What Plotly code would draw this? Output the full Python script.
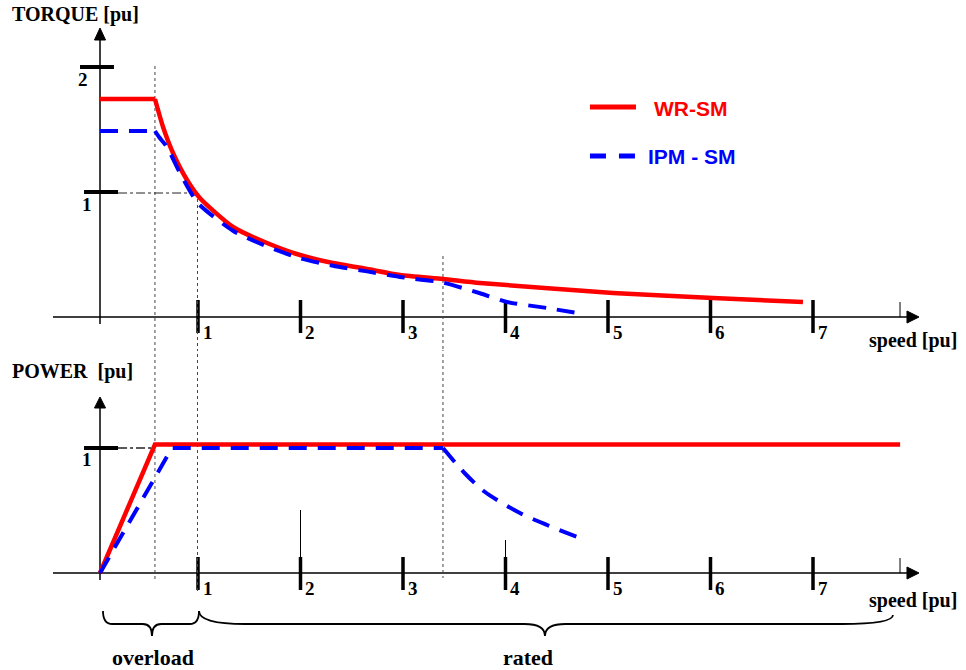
import plotly.graph_objects as go

# ---------------- data ----------------
speed_wr_flat = [0.044, 0.580]
torque_wr_flat = [1.744, 1.744]
speed_wr_torque = [0.580, 0.659, 0.756, 0.893, 1.020, 1.341, 1.673, 1.995, 2.317,
                   2.649, 2.971, 3.390, 3.751, 5.049, 6.024, 6.902]
torque_wr = [1.744, 1.52, 1.312, 1.096, 0.95, 0.72, 0.592, 0.496, 0.432,
             0.384, 0.336, 0.304, 0.272, 0.192, 0.152, 0.12]

speed_ipm_flat = [0.044, 0.580]
torque_ipm_flat = [1.488, 1.488]
speed_ipm_torque = [0.580, 0.620, 0.698, 0.824, 1.0, 1.341, 1.673, 1.995, 2.317,
                    2.649, 2.971, 3.390, 3.751, 4.015, 4.405, 4.698]
torque_ipm = [1.488, 1.44, 1.36, 1.152, 0.91, 0.69, 0.565, 0.47, 0.41,
              0.365, 0.32, 0.275, 0.19, 0.12, 0.072, 0.032]

speed_wr_power = [0.044, 0.580, 7.85]
power_wr = [0.0, 1.028, 1.028]

speed_ipm_power = [0.044, 0.746, 3.390]
power_ipm = [0.0, 1.0, 1.0]
speed_ipm_power_fw = [3.390, 3.60, 3.80, 4.141, 4.405, 4.698]
power_ipm_fw = [1.0, 0.80, 0.648, 0.48, 0.384, 0.288]

speed_ticks = [1, 2, 3, 4, 5, 6, 7]
speed_tick_labels = ["1", "2", "3", "4", "5", "6", "7"]
torque_ticks = [1, 2]
torque_tick_labels = ["1", "2"]
power_ticks = [1]
power_tick_labels = ["1"]

series_names = ["WR-SM", "IPM - SM"]
region_names = ["overload", "rated"]
region_spans = [[0.073, 1.01], [1.01, 7.78]]

corner_speeds = [0.580, 0.995, 3.390]

# ---------------- styles ----------------
RED = "#ff0000"
BLUE = "#0000ff"
BLK = "#000000"
SERIF = "Liberation Serif, Times New Roman, serif"
SANS = "Liberation Sans, Arial, sans-serif"
DASH = "18px,11px"
AX0 = 0.044  # position of the vertical axes on the speed scale

fig = go.Figure()

# torque panel (x, y)
fig.add_trace(go.Scatter(x=speed_wr_flat, y=torque_wr_flat, mode="lines",
                         line=dict(color=RED, width=4.5),
                         xaxis="x", yaxis="y", showlegend=False, name=series_names[0]))
fig.add_trace(go.Scatter(x=speed_wr_torque, y=torque_wr, mode="lines",
                         line=dict(color=RED, width=4.5, shape="spline", smoothing=0.6),
                         xaxis="x", yaxis="y", showlegend=False, name=series_names[0]))
fig.add_trace(go.Scatter(x=speed_ipm_flat, y=torque_ipm_flat, mode="lines",
                         line=dict(color=BLUE, width=4, dash=DASH),
                         xaxis="x", yaxis="y", showlegend=False, name=series_names[1]))
fig.add_trace(go.Scatter(x=speed_ipm_torque, y=torque_ipm, mode="lines",
                         line=dict(color=BLUE, width=4, dash=DASH, shape="spline", smoothing=0.6),
                         xaxis="x", yaxis="y", showlegend=False, name=series_names[1]))
# power panel (x2, y2)
fig.add_trace(go.Scatter(x=speed_wr_power, y=power_wr, mode="lines",
                         line=dict(color=RED, width=4.5),
                         xaxis="x2", yaxis="y2", showlegend=False, name=series_names[0]))
fig.add_trace(go.Scatter(x=speed_ipm_power, y=power_ipm, mode="lines",
                         line=dict(color=BLUE, width=4, dash=DASH),
                         xaxis="x2", yaxis="y2", showlegend=False, name=series_names[1]))
fig.add_trace(go.Scatter(x=speed_ipm_power_fw, y=power_ipm_fw, mode="lines",
                         line=dict(color=BLUE, width=4, dash=DASH, shape="spline", smoothing=0.8),
                         xaxis="x2", yaxis="y2", showlegend=False, name=series_names[1]))

shapes = []
annotations = []


def line(x0, y0, x1, y1, xr, yr, width=1.5, color=BLK, dash=None):
    d = dict(type="line", x0=x0, y0=y0, x1=x1, y1=y1, xref=xr, yref=yr,
             line=dict(color=color, width=width), layer="below")
    if dash:
        d["line"]["dash"] = dash
    shapes.append(d)


def tri(path_pts, xr, yr):
    p = "M " + " L ".join(f"{a},{b}" for a, b in path_pts) + " Z"
    shapes.append(dict(type="path", path=p, xref=xr, yref=yr,
                       fillcolor=BLK, line=dict(color=BLK, width=1)))


def text(x, y, s, xr, yr, size=19, color=BLK, font=SERIF, xanchor="center", bold=True):
    annotations.append(dict(x=x, y=y, xref=xr, yref=yr, text=(f"<b>{s}</b>" if bold else s),
                            showarrow=False, xanchor=xanchor, yanchor="middle",
                            font=dict(family=font, size=size, color=color)))


# ----- axes for both panels -----
for xr, yr, ytick_vals, ytick_txt, ytop_base, ytop_tip, tick_lo, tick_hi in [
        ("x", "y", torque_ticks, torque_tick_labels, 2.216, 2.312, -0.128, 0.136),
        ("x2", "y2", power_ticks, power_tick_labels, 1.32, 1.408, -0.136, 0.128)]:
    # horizontal axis with arrow
    line(-0.415, 0, 7.92, 0, xr, yr)
    tri([(7.917, 0.048), (8.034, 0), (7.917, -0.048)], xr, yr)
    line(7.849, 0, 7.849, 0.12, xr, yr, width=1)
    # vertical axis with arrow
    line(AX0, -0.056, AX0, ytop_base + 0.01, xr, yr)
    tri([(AX0 - 0.054, ytop_base), (AX0, ytop_tip), (AX0 + 0.054, ytop_base)], xr, yr)
    # speed ticks
    for v, t in zip(speed_ticks, speed_tick_labels):
        line(v, tick_lo, v, tick_hi, xr, yr, width=3.5)
        text(v + 0.025, -0.12, t, xr, yr, size=19, xanchor="left")
    # y ticks
    for v, t in zip(ytick_vals, ytick_txt):
        x0, x1, lx = (-0.151, 0.180, -0.122) if v == 2 else (-0.112, 0.220, -0.083)
        line(x0, v, x1, v, xr, yr, width=4)
        text(lx, v - 0.096, t, xr, yr, size=19)
    text(7.98, -0.184 if yr == "y" else -0.216, "speed [pu]", xr, yr, size=20)

# odd thin marks above ticks 2 and 4 in power panel
line(2, 0, 2, 0.504, "x2", "y2", width=1)
line(4, 0, 4, 0.264, "x2", "y2", width=1)

# ----- dotted guide lines -----
GUIDE = dict(width=1, color="#444444", dash="dot")
top_starts = [2.008, 0.992, 0.488]
bot_ends = [-0.056, -0.16, -0.04]
for s, t0, b1 in zip(corner_speeds, top_starts, bot_ends):
    line(s, t0, s, -0.3, "x", "y", **GUIDE)
    line(s, 1.8, s, b1, "x2", "y2", **GUIDE)
line(0.22, 0.992, corner_speeds[1], 0.992, "x", "y", width=1, color="#222222", dash="dashdot")
line(0.22, 1.0, corner_speeds[0], 1.0, "x2", "y2", width=1.5, color="#222222", dash="dashdot")

# ----- braces -----
def brace(x0, x1, xm, ytop_l, ytop_r, ymid, ytip, dl, dm, dr):
    p = (f"M {x0},{ytop_l} Q {x0},{ymid} {x0 + dl},{ymid} L {xm - dm},{ymid} "
         f"Q {xm},{ymid} {xm},{ytip} Q {xm},{ymid} {xm + dm},{ymid} "
         f"L {x1 - dr},{ymid} Q {x1},{ymid} {x1},{ytop_r}")
    shapes.append(dict(type="path", path=p, xref="x2", yref="y2",
                       line=dict(color=BLK, width=1.8)))


(o0, o1), (r0, r1) = region_spans
brace(o0, o1, 0.551, -0.304, -0.304, -0.408, -0.504, 0.09, 0.09, 0.09)
brace(r0, r1, 4.385, -0.304, -0.336, -0.408, -0.504, 0.45, 0.2, 0.5)
text((o0 + o1) / 2 + 0.02, -0.672, region_names[0], "x2", "y2", size=22)
text(4.22, -0.672, region_names[1], "x2", "y2", size=22)

# ----- legend (drawn) -----
line(4.824, 1.68, 5.273, 1.68, "x", "y", width=5, color=RED)
line(4.824, 1.288, 5.273, 1.288, "x", "y", width=5, color=BLUE, dash="16px,13px")
text(5.80, 1.672, series_names[0], "x", "y", size=21, color=RED, font=SANS)
text(5.82, 1.288, series_names[1], "x", "y", size=21, color=BLUE, font=SANS)

# ----- titles -----
text(-0.834, 2.424, "TORQUE [pu]", "x", "y", size=20, xanchor="left")
text(-0.834, 1.608, "POWER\u00a0\u00a0[pu]", "x2", "y2", size=20, xanchor="left")

XR = [-0.9317, 8.4927]
fig.update_layout(
    width=966, height=670,
    margin=dict(l=0, r=0, t=0, b=0),
    paper_bgcolor="white", plot_bgcolor="white",
    showlegend=False,
    xaxis=dict(domain=[0, 1], range=XR, visible=False, anchor="y"),
    yaxis=dict(domain=[1 - 350 / 670, 1], range=[-0.264, 2.536], visible=False, anchor="x"),
    xaxis2=dict(domain=[0, 1], range=XR, visible=False, anchor="y2"),
    yaxis2=dict(domain=[0, 1 - 350 / 670], range=[-0.776, 1.784], visible=False, anchor="x2"),
    shapes=shapes,
    annotations=annotations,
)

fig.write_html("out.html", config={"displayModeBar": False},
               post_script="document.body.style.margin='0';")
